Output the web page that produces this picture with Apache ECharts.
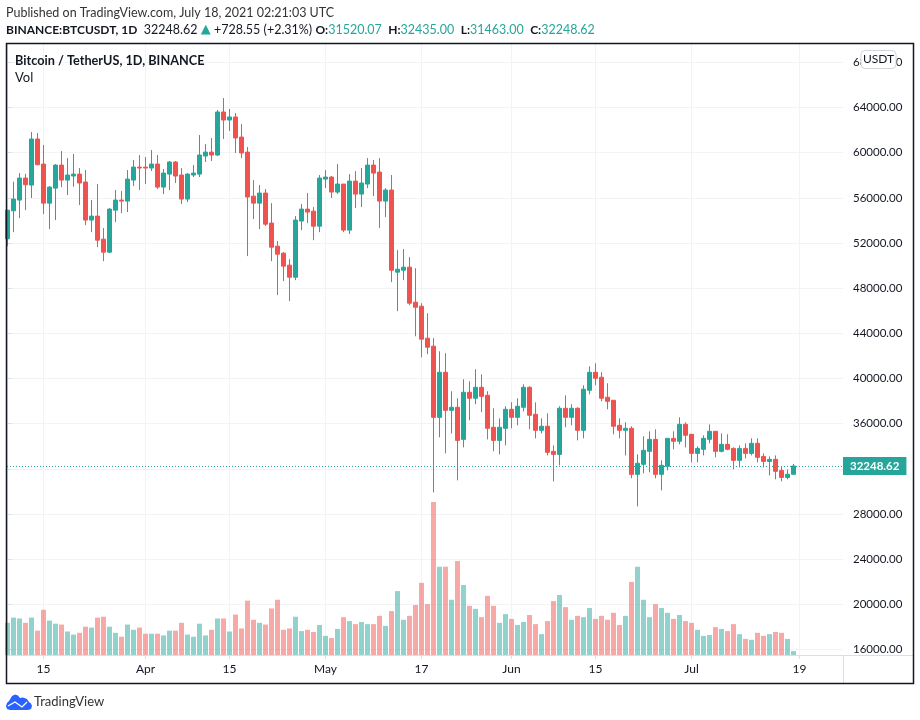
<!DOCTYPE html>
<html lang="en">
<head>
	<meta charset="UTF-8">
	<title>BTCUSDT 1D</title>
	<script src="https://cdn.jsdelivr.net/npm/echarts@6/dist/echarts.min.js"></script>
	<style>
		html, body { margin: 0; padding: 0; background: #fff; }
		#main { width: 920px; height: 720px; }
	</style>
</head>
<body>
	<div id="main"></div>
	<script>
		// daily candles, 9 Mar - 18 Jul 2021
		var opens = [52370,54850,55800,57750,57130,61210,58990,55530,56860,58900,57570,57930,58100,57400,54030,54380,52340,51190,54910,55800,55710,57570,58720,58720,58640,58990,56950,58100,59170,58020,55890,58020,58100,59700,60050,59790,63600,62890,63160,61380,60050,56150,55530,56420,53760,51720,51100,50040,48970,53940,55000,54820,53490,57660,57840,56510,57220,53140,57480,56330,57220,58900,58280,55710,56690,49420,49590,49860,46760,46400,43570,42860,36560,40550,37180,37450,34610,38780,38250,39220,38510,35680,34520,35590,37270,36560,37450,39220,36830,35410,35770,33550,33280,37360,36560,37360,35410,38960,40550,40110,38340,38070,35850,35410,35590,31510,32400,33550,34610,31510,32220,34700,34440,35940,35060,33370,33730,34610,35320,33550,34170,33810,32750,33810,33370,34260,33100,32660,32840,31860,31240,31520.07];
		var closes = [54910,55890,57750,57160,61210,58930,55530,56950,58900,57570,58020,58100,57310,54030,54380,52250,51190,55000,55800,55710,57660,58720,58640,58640,58990,56950,58190,59170,57930,55890,58100,58190,59790,60050,59790,63600,62890,63160,61300,59970,56070,55530,56420,53670,51630,51010,49950,48970,54030,55000,54740,53490,57750,57840,56510,57220,53140,57480,56330,57310,58900,58190,55710,56690,49590,49680,49860,46670,46310,43480,42770,36560,40550,37180,37450,34520,38780,38250,39220,38420,35590,34520,35680,37270,36560,37540,39220,36740,35410,35770,33460,33280,37360,36560,37360,35410,39050,40550,40020,38250,37980,35770,35410,35590,31510,32490,33640,34610,31510,32310,34700,34440,35940,34970,33370,33810,34700,35320,33550,34170,33730,32750,33810,33370,34260,33020,32660,32840,31780,31240,31520,32248.62];
		var lows = [51720,52960,54200,54910,55980,58900,54560,53230,54030,56950,56240,56980,55360,53580,52960,51630,50390,51100,53850,54650,54740,57040,56690,57220,58370,56780,56330,56690,57310,55450,55620,57840,57840,59170,59260,59700,61210,61920,59970,59520,50840,54120,53230,53500,50390,47380,48620,46850,48710,53140,53760,52250,52960,56860,55980,56330,52960,52790,55090,55180,56860,56150,53320,54290,48530,45960,48710,46490,43740,41880,42150,29910,34790,33370,35140,30980,33900,36300,37720,37010,34610,33550,33280,34080,35590,35850,37090,35500,34700,35140,33190,30890,32310,35680,35850,34520,34700,38600,39400,37980,37270,35060,34700,33190,31160,28670,31600,31690,31160,30090,31860,33730,34170,33900,32570,32570,33190,34260,33020,33460,33640,31950,32130,32930,33190,32570,32130,31420,31070,30890,31070,31463];
		var highs = [54910,57430,58190,58130,61830,61740,60680,57040,58990,60140,59520,59880,58640,58460,55800,57220,53320,55090,56690,56600,58460,59350,59790,59610,60230,59790,58550,59260,59260,58640,58190,58900,61560,60760,61300,63780,64840,63870,63510,62540,60500,57570,57130,56780,55530,52170,51190,50570,54380,55450,56420,55180,58020,58460,57930,58990,57220,58100,58370,58640,59520,59350,59520,56860,58020,51370,51460,50750,49770,46670,45780,43570,42410,42240,38870,38250,39930,39750,40820,40370,38870,37360,36470,37540,37890,38250,39490,39310,37890,36470,36920,34080,37540,38510,37720,37450,39400,41080,41350,40550,39580,38070,36470,36120,35770,33280,34880,35320,35500,32750,34700,35320,36560,36120,35060,33990,34970,35940,35320,35140,35060,33900,34080,34260,34700,34700,33370,33100,33190,32220,31950,32435];
		// volume in thousand BTC, no scale in the picture so estimated from bar heights
		var volumes = [74,86,84,74,86,56,104,79,72,70,54,47,51,65,63,86,88,65,51,42,70,58,63,49,49,49,45,56,56,74,47,42,72,45,58,84,84,54,93,61,125,81,74,70,107,127,58,61,88,55,58,53,69,44,39,60,87,78,71,76,71,71,90,67,101,147,81,90,115,166,117,352,203,203,127,216,161,113,106,87,136,113,74,94,83,69,76,92,71,48,78,124,138,110,81,90,87,108,83,90,81,97,69,90,168,203,127,87,117,108,97,83,92,78,74,58,44,46,64,60,55,71,48,37,35,51,44,48,53,51,37,9];
		var tickDays = [6,23,37,53,69,84,98,114,132];
		var tickLabels = ['15','Apr','15','May','17','Jun','15','Jul','19'];
		var priceTicks = [16000,20000,24000,28000,32000,36000,40000,44000,48000,52000,56000,60000,64000,68000];
		var lastClose = 32248.62;

		var UP = '#26a69a', DOWN = '#ef5350', TEXT = '#131722', LINE = '#dcdee3', GRID_LINE = '#f2f3f5';
		var FONT = 'Lato, sans-serif';

		var candles = opens.map(function (o, i) {
			return [i, o, closes[i], lows[i], highs[i]];
		});
		var volumeBars = volumes.map(function (v, i) {
			return {
				value: [i, v],
				itemStyle: { color: closes[i] >= opens[i] ? 'rgba(38,166,154,0.5)' : 'rgba(239,83,80,0.5)' }
			};
		});

		var option = {
			animation: false,
			backgroundColor: '#fff',
			textStyle: { fontFamily: FONT },
			grid: { left: 7, top: 44, width: 836, height: 611 },
			xAxis: {
				type: 'value',
				min: -1 / 12,     // 6px per day, first candle half cut off
				max: 139.25,
				axisLine: { show: true, lineStyle: { color: LINE } },
				axisTick: { show: true, length: 4, lineStyle: { color: LINE }, customValues: tickDays },
				splitLine: { show: true, lineStyle: { color: GRID_LINE } },
				axisLabel: {
					customValues: tickDays,
					color: TEXT,
					fontFamily: FONT,
					fontSize: 12,
					margin: 8,
					formatter: function (v) { return tickLabels[tickDays.indexOf(v)]; }
				}
			},
			yAxis: [{
				type: 'value',
				position: 'right',
				min: 15513,
				max: 69623,
				axisLine: { show: true, lineStyle: { color: LINE } },
				axisTick: { show: true, length: 4, lineStyle: { color: LINE }, customValues: priceTicks },
				splitLine: { show: true, lineStyle: { color: GRID_LINE } },
				axisLabel: {
					customValues: priceTicks,
					color: TEXT,
					fontFamily: FONT,
					fontSize: 11.5,
					margin: 10,
					formatter: function (v) { return v.toFixed(2); }
				}
			}, {
				type: 'value',
				show: false,
				min: 0,
				max: 1405
			}],
			series: [{
				type: 'bar',
				yAxisIndex: 1,
				barWidth: 5,
				data: volumeBars,
				z: 1
			}, {
				type: 'candlestick',
				barWidth: 4,
				itemStyle: { color: UP, color0: DOWN, borderColor: UP, borderColor0: DOWN, borderWidth: 1 },
				data: candles,
				encode: { x: 0, y: [1, 2, 3, 4] },
				z: 2,
				markLine: {
					silent: true,
					symbol: 'none',
					animation: false,
					lineStyle: { color: UP, type: [1, 2], width: 1 },
					label: {
						position: 'end',
						distance: 0,
						color: '#fff',
						backgroundColor: UP,
						fontFamily: FONT,
						fontSize: 11.5,
						fontWeight: 'bold',
						padding: [3, 7],
						formatter: function () { return lastClose.toFixed(2); }
					},
					data: [{ yAxis: lastClose }]
				}
			}],
			graphic: [
				{ type: 'line', shape: { x1: 843, y1: 655.5, x2: 913, y2: 655.5 }, style: { stroke: LINE, lineWidth: 1 }, silent: true },
				{ type: 'line', shape: { x1: 843.5, y1: 655, x2: 843.5, y2: 683 }, style: { stroke: LINE, lineWidth: 1 }, silent: true },
				{ type: 'rect', shape: { x: 6.5, y: 43.5, width: 907, height: 640 }, style: { fill: 'none', stroke: TEXT, lineWidth: 1.5 }, silent: true, z: 10 },
				{ type: 'rect', shape: { x: 861, y: 50.5, width: 35, height: 18, r: 4 }, style: { fill: '#fff', stroke: '#d1d4dc', lineWidth: 1 }, silent: true, z: 11 },
				{ type: 'text', x: 878.5, y: 59.5, z: 12, silent: true, style: { text: 'USDT', fill: TEXT, font: '12px ' + FONT, align: 'center', verticalAlign: 'middle' } },
				{ type: 'text', x: 6, y: 13, z: 12, silent: true, style: { text: 'Published on TradingView.com, July 18, 2021 02:21:03 UTC', fill: '#333', font: '12.5px ' + FONT, verticalAlign: 'middle' } },
				{
					type: 'text', x: 6, y: 30, z: 12, silent: true,
					style: {
						text: '{b|BINANCE:BTCUSDT, 1D}  {n|32248.62} {t|▲} {n|+728.55 (+2.31%)} {b|O:}{u|31520.07}  {b|H:}{u|32435.00}  {b|L:}{u|31463.00}  {b|C:}{u|32248.62}',
						verticalAlign: 'middle',
						font: '12.5px ' + FONT,
						rich: {
							b: { fill: TEXT, font: 'bold 12px ' + FONT },
							n: { fill: TEXT, font: '12.5px ' + FONT },
							u: { fill: UP, font: '12.5px ' + FONT },
							t: { fill: UP, font: '13px "DejaVu Sans"' }
						}
					}
				},
				{ type: 'text', x: 15, y: 60.5, z: 12, silent: true, style: { text: 'Bitcoin / TetherUS, 1D, BINANCE', fill: TEXT, font: 'bold 12.7px ' + FONT, verticalAlign: 'middle' } },
				{ type: 'text', x: 15, y: 77.5, z: 12, silent: true, style: { text: 'Vol', fill: TEXT, font: '13px ' + FONT, verticalAlign: 'middle' } },
				{
					type: 'polygon', z: 12, silent: true,
					shape: { points: [[10, 710], [7, 709], [6, 706], [7, 703], [9, 701], [12, 696], [15, 694.5], [18, 695.5], [20, 698], [23, 697.5], [27, 699], [29, 702], [31, 703.5], [32, 706], [31, 709], [28, 710]] },
					style: { fill: '#2962ff' }
				},
				{ type: 'polyline', z: 13, silent: true, shape: { points: [[8, 706], [15, 702], [22, 707], [27, 702]] }, style: { fill: 'none', stroke: '#fff', lineWidth: 1.3 } },
				{ type: 'text', x: 34, y: 702, z: 12, silent: true, style: { text: 'TradingView', fill: '#333', font: '13px ' + FONT, verticalAlign: 'middle' } }
			]
		};

		var mainCanvas = document.getElementById('main');
		var myChart = echarts.init(mainCanvas);
		myChart.setOption(option);
	</script>
</body>
</html>
